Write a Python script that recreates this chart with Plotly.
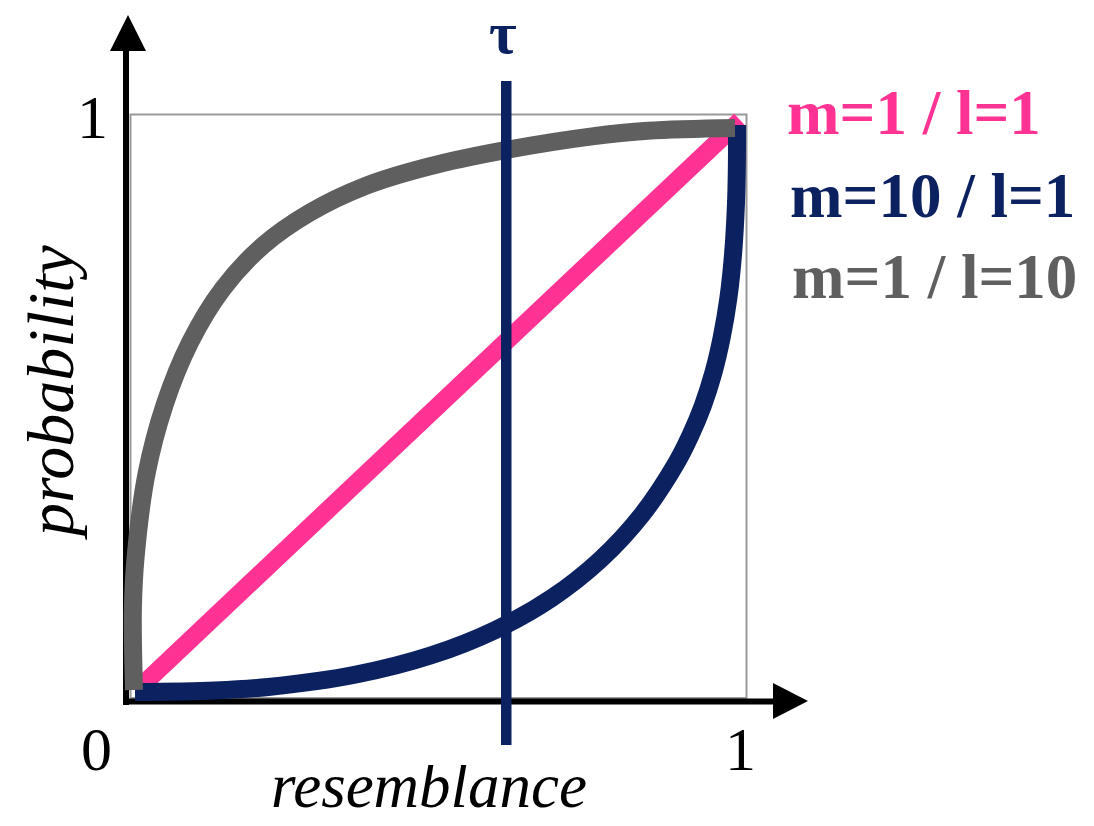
import plotly.graph_objects as go

# ---- data -------------------------------------------------------------
# m=1 / l=1 : straight diagonal
pink_x = [0.015, 0.990]
pink_y = [0.018, 0.990]

# m=10 / l=1 : convex curve
navy_x = [0.0073, 0.1369, 0.2235, 0.3662, 0.4870, 0.5920, 0.6839, 0.7631, 0.8305, 0.8857,
          0.9089, 0.9289, 0.9459, 0.9597, 0.9706, 0.9782, 0.9830, 0.9844, 0.9846]
navy_y = [0.0103, 0.0129, 0.0189, 0.0403, 0.0728, 0.1165, 0.1714, 0.2374, 0.3145, 0.4019,
          0.4499, 0.5004, 0.5561, 0.6178, 0.6855, 0.7609, 0.8492, 0.9152, 0.9820]

# m=1 / l=10 : concave curve
gray_x = [0.0057, 0.0039, 0.0083, 0.0261, 0.0555, 0.0968, 0.1497, 0.2146, 0.2914,
          0.3808, 0.4843, 0.6042, 0.7494, 0.8398, 0.9813]
gray_y = [0.0137, 0.1529, 0.2418, 0.3846, 0.5028, 0.6096, 0.7011, 0.7750, 0.8320,
          0.8773, 0.9109, 0.9381, 0.9625, 0.9721, 0.9769]

# threshold
tau_x = 0.610

series_names = ["m=1 / l=1", "m=10 / l=1", "m=1 / l=10"]
series_colors = ["#FF3394", "#0C2160", "#5F5F5F"]

tick_vals = [0, 1]
tick_text = ["0", "1"]

x_title = "resemblance"
y_title = "probability"

# ---- geometry ---------------------------------------------------------
W, H = 1094, 826
X0, X1 = 130.5, 746.5      # pixel columns of x = 0 and x = 1
Y0, Y1 = 698.0, 114.5      # pixel rows of y = 0 and y = 1
SX, SY = X1 - X0, Y0 - Y1


def fx(px):
    return (px - X0) / SX


def fy(py):
    return (Y0 - py) / SY


SERIF = "Liberation Serif, Times New Roman, serif"
LW = 18

fig = go.Figure()

fig.add_trace(go.Scatter(x=pink_x, y=pink_y, mode="lines",
                         line=dict(color=series_colors[0], width=LW),
                         hoverinfo="skip", showlegend=False))
fig.add_trace(go.Scatter(x=navy_x, y=navy_y, mode="lines",
                         line=dict(color=series_colors[1], width=LW, shape="spline", smoothing=1),
                         hoverinfo="skip", showlegend=False))
fig.add_trace(go.Scatter(x=gray_x, y=gray_y, mode="lines",
                         line=dict(color=series_colors[2], width=LW, shape="spline", smoothing=1),
                         hoverinfo="skip", showlegend=False))

shapes = []
# unit box
shapes.append(dict(type="rect", xref="x", yref="y", x0=0, x1=1, y0=0, y1=1,
                   line=dict(color="#999999", width=2), layer="below"))
# axis shafts
shapes.append(dict(type="line", xref="x", yref="y", x0=fx(126), x1=fx(126), y0=fy(705), y1=fy(50),
                   line=dict(color="black", width=6), layer="below"))
shapes.append(dict(type="line", xref="x", yref="y", x0=fx(123), x1=fx(775), y0=fy(701.5), y1=fy(701.5),
                   line=dict(color="black", width=6), layer="below"))
# arrow heads
shapes.append(dict(type="path", xref="x", yref="y",
                   path=f"M {fx(128)},{fy(15)} L {fx(110)},{fy(51)} L {fx(146)},{fy(51)} Z",
                   fillcolor="black", line=dict(width=0), layer="below"))
shapes.append(dict(type="path", xref="x", yref="y",
                   path=f"M {fx(808)},{fy(701)} L {fx(773)},{fy(683)} L {fx(773)},{fy(719)} Z",
                   fillcolor="black", line=dict(width=0), layer="below"))
# threshold line
shapes.append(dict(type="line", xref="x", yref="y", x0=tau_x, x1=tau_x, y0=fy(745), y1=fy(81),
                   line=dict(color=series_colors[1], width=10.5), layer="above"))

ann = []
# tick labels
ann.append(dict(x=fx(96), y=fy(749), text=tick_text[0]))
ann.append(dict(x=fx(740), y=fy(749), text=tick_text[1]))
ann.append(dict(x=fx(92), y=fy(117), text=tick_text[1]))
for a in ann:
    a.update(xref="x", yref="y", showarrow=False, xanchor="center", yanchor="middle",
             font=dict(family=SERIF, size=62, color="black"))

# axis titles
ann.append(dict(x=fx(429), y=fy(822), xref="x", yref="y", showarrow=False,
                text=f"<i>{x_title}</i>", xanchor="center", yanchor="bottom",
                height=56, valign="bottom", borderpad=0,
                font=dict(family=SERIF, size=63, color="black")))
ann.append(dict(x=fx(50), y=fy(392), xref="x", yref="y", showarrow=False,
                text=f"<i>{y_title}</i>", textangle=-90, xanchor="center", yanchor="middle",
                font=dict(family=SERIF, size=66, color="black")))

# tau label
ann.append(dict(x=fx(503), y=fy(33), xref="x", yref="y", showarrow=False,
                text="<b>τ</b>", xanchor="center", yanchor="middle", borderpad=0,
                font=dict(family=SERIF, size=60, color=series_colors[1])))

# series labels
label_pos = [(785, 113), (788, 196), (790, 277)]
for name, col, (px, py) in zip(series_names, series_colors, label_pos):
    ann.append(dict(x=fx(px), y=fy(py), xref="x", yref="y", showarrow=False,
                    text=f"<b>{name}</b>", xanchor="left", yanchor="middle",
                    font=dict(family=SERIF, size=63, color=col)))

fig.update_layout(
    width=W, height=H,
    margin=dict(l=0, r=0, t=0, b=0),
    paper_bgcolor="white", plot_bgcolor="white",
    shapes=shapes, annotations=ann,
    xaxis=dict(range=[fx(0), fx(W)], visible=False, fixedrange=True),
    yaxis=dict(range=[fy(H), fy(0)], visible=False, fixedrange=True),
    showlegend=False,
)

fig.write_html("out.html", config={"displayModeBar": False})
